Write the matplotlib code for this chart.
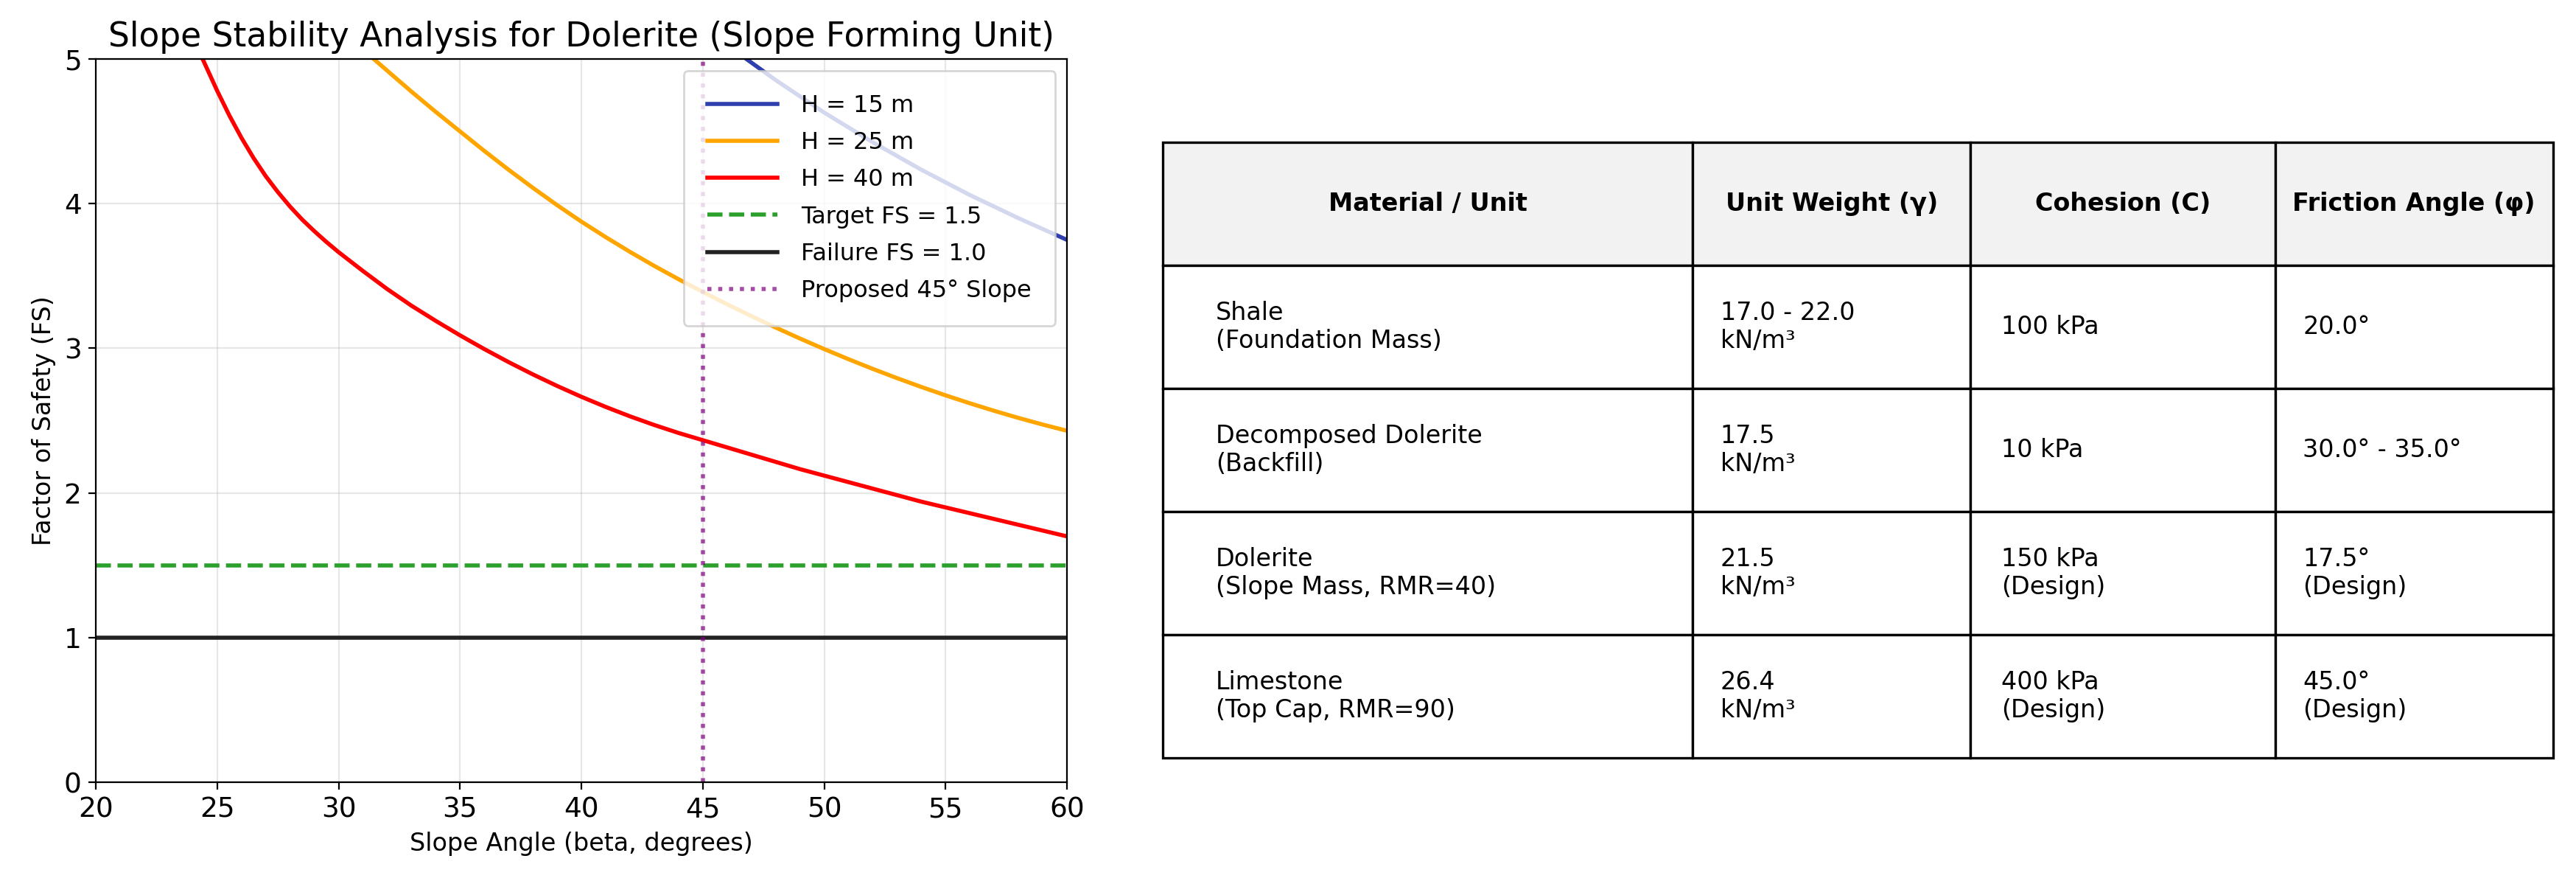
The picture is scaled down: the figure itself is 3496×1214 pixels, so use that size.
import matplotlib
matplotlib.use('Agg')
import matplotlib.pyplot as plt

# FS curves (slope angle in degrees -> factor of safety)
angulos_h40 = [24.0, 24.4, 25, 25.5, 26, 26.5, 27, 27.5, 28, 28.5, 29, 29.5, 30, 31, 32, 33, 34, 35,
               36, 37, 38, 39, 40, 41, 42, 43, 44, 45, 46, 47, 48, 49, 50, 51, 52, 53, 54, 55,
               56, 57, 58, 59, 60]
fs_h40 = [5.15, 5.0, 4.78, 4.61, 4.455, 4.315, 4.19, 4.08, 3.98, 3.89, 3.81, 3.735, 3.665, 3.535, 3.41, 3.295, 3.19, 3.09,
          2.995, 2.905, 2.82, 2.74, 2.665, 2.595, 2.53, 2.47, 2.415, 2.365, 2.315, 2.265, 2.215, 2.165, 2.12, 2.075, 2.03, 1.985, 1.94, 1.90,
          1.86, 1.82, 1.78, 1.74, 1.70]

angulos_h25 = [31.0, 31.45, 32, 33, 34, 35, 36, 37, 38, 39, 40, 41, 42, 43, 44, 45, 46, 47, 48, 49,
               50, 51, 52, 53, 54, 55, 56, 57, 58, 59, 60]
fs_h25 = [5.065, 5.0, 4.92, 4.775, 4.635, 4.50, 4.365, 4.235, 4.11, 3.99, 3.876, 3.769, 3.667, 3.57, 3.478, 3.39,
          3.305, 3.223, 3.144, 3.068, 2.995, 2.925, 2.858, 2.794, 2.733, 2.675, 2.62, 2.568, 2.519, 2.473, 2.43]

angulos_h15 = [46.5, 46.8, 48, 50, 52, 54, 56, 58, 60]
fs_h15 = [5.04, 5.0, 4.855, 4.63, 4.425, 4.235, 4.06, 3.90, 3.75]

fs_objetivo = 1.5
fs_falla = 1.0
talud_propuesto = 45

# tabla de materiales
encabezados = ['Material / Unit', 'Unit Weight (γ)', 'Cohesion (C)', 'Friction Angle (φ)']
materiales = ['Shale\n(Foundation Mass)', 'Decomposed Dolerite\n(Backfill)',
              'Dolerite\n(Slope Mass, RMR=40)', 'Limestone\n(Top Cap, RMR=90)']
pesos = ['17.0 - 22.0\nkN/m³', '17.5\nkN/m³', '21.5\nkN/m³', '26.4\nkN/m³']
cohesiones = ['100 kPa', '10 kPa', '150 kPa\n(Design)', '400 kPa\n(Design)']
friccion = ['20.0°', '30.0° - 35.0°', '17.5°\n(Design)', '45.0°\n(Design)']

fig = plt.figure(figsize=(17.48, 6.07), dpi=200)

ax = fig.add_axes([0.0372, 0.126, 0.377, 0.808])
ax.plot(angulos_h15, fs_h15, color='#2f3fae', lw=2, label='H = 15 m')
ax.plot(angulos_h25, fs_h25, color='orange', lw=2, label='H = 25 m')
ax.plot(angulos_h40, fs_h40, color='red', lw=2, label='H = 40 m')
ax.axhline(fs_objetivo, color='#2ca02c', ls='--', lw=2, label='Target FS = 1.5')
ax.axhline(fs_falla, color='#222222', ls='-', lw=2, label='Failure FS = 1.0')
ax.axvline(talud_propuesto, color='purple', ls=':', lw=2, alpha=0.7, label='Proposed 45° Slope')

ax.set_xlim(20, 60)
ax.set_ylim(0, 5)
ax.set_title('Slope Stability Analysis for Dolerite (Slope Forming Unit)', fontsize=16.4)
ax.set_xlabel('Slope Angle (beta, degrees)', fontsize=12)
ax.set_ylabel('Factor of Safety (FS)', fontsize=12)
ax.tick_params(labelsize=13.5)
ax.grid(True, alpha=0.3)
ax.legend(loc='upper right', fontsize=11.5, handlelength=3, handletextpad=1.0,
          labelspacing=0.6, borderpad=1.0)

ax_tabla = fig.add_axes([0.4514, 0.1532, 0.5397, 0.6878])
ax_tabla.axis('off')
filas = [list(f) for f in zip(materiales, pesos, cohesiones, friccion)]
tabla = ax_tabla.table(cellText=filas, colLabels=encabezados, cellLoc='left',
                       colLoc='center', colWidths=[0.381, 0.200, 0.219, 0.200],
                       bbox=[0, 0, 1, 1])
tabla.auto_set_font_size(False)
tabla.set_fontsize(12)
for (r, c), celda in tabla.get_celld().items():
    celda.set_linewidth(1.2)
    if r == 0:
        celda.set_facecolor('#f2f2f2')
        celda.get_text().set_fontweight('bold')

fig.savefig('out.png', dpi=200)
plt.close(fig)
